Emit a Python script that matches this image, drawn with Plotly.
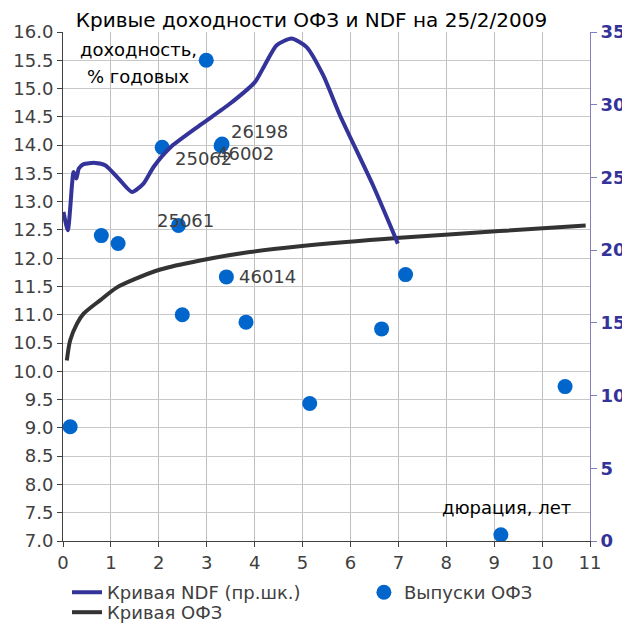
import plotly.graph_objects as go

# ---------------------------------------
# data
# ---------------------------------------
ndf_dur = [0.01, 0.10, 0.19, 0.22, 0.28, 0.33, 0.43, 0.67, 0.88, 1.16, 1.44, 1.68, 1.89,
           2.24, 2.86, 3.49, 4.01, 4.21, 4.46, 4.77, 5.08, 5.43, 5.78, 6.47, 6.99]
ndf_yield = [22.63, 21.37, 24.58, 25.38, 24.92, 25.61, 25.91, 26.0, 25.84, 24.92, 24.0, 24.58, 25.72,
             27.06, 28.59, 30.08, 31.57, 32.72, 34.09, 34.55, 33.98, 32.03, 29.28, 24.46, 20.45]

ofz_curve_dur = [0.08, 0.15, 0.29, 0.43, 0.78, 1.12, 1.47, 2.03, 2.86, 3.9, 4.94, 7.03, 9.11, 10.91]
ofz_curve_yield = [10.19, 10.55, 10.84, 11.02, 11.26, 11.48, 11.62, 11.8, 11.96, 12.11, 12.21,
                   12.36, 12.48, 12.58]

bond_names = ["", "", "", "25062", "", "25061", "26198", "46002", "46014", "", "", "", "", "", "", ""]
bond_dur = [0.15, 0.8, 1.15, 2.07, 2.99, 2.41, 3.32, 3.30, 3.41, 2.49, 3.82, 5.15, 6.65, 7.15, 9.14, 10.48]
bond_yield = [9.02, 12.4, 12.26, 13.96, 15.5, 12.58, 14.02, 13.99, 11.67, 11.0, 10.87, 9.43, 10.75,
              11.71, 7.11, 9.73]

# label offsets in pixels (xshift, yshift)
label_shift = {
    "25062": (11, -11),
    "25061": (-23, 5),
    "26198": (7, 12),
    "46002": (-6, -8),
    "46014": (11, 0),
}

FONT = "DejaVu Sans, sans-serif"

fig = go.Figure()

fig.add_trace(go.Scatter(
    x=ndf_dur, y=ndf_yield, yaxis="y2",
    mode="lines", name="Кривая NDF (пр.шк.)",
    line=dict(color="#333399", width=4, shape="spline", smoothing=0.6),
    legend="legend"
))

fig.add_trace(go.Scatter(
    x=bond_dur, y=bond_yield,
    mode="markers", name="Выпуски ОФЗ",
    marker=dict(color="#0066cc", size=15),
    legend="legend2"
))

fig.add_trace(go.Scatter(
    x=ofz_curve_dur, y=ofz_curve_yield,
    mode="lines", name="Кривая ОФЗ",
    line=dict(color="#333333", width=4, shape="spline", smoothing=0.8),
    legend="legend3"
))

annotations = []
for name, x, y in zip(bond_names, bond_dur, bond_yield):
    if not name:
        continue
    dx, dy = label_shift[name]
    annotations.append(dict(
        x=x, y=y, text=name, showarrow=False,
        xanchor="left", yanchor="middle",
        xshift=dx, yshift=dy,
        font=dict(size=18, color="#404040", family=FONT)
    ))

for txt, ax, ay in [("доходность,", 0.144, 0.965),
                    ("% годовых", 0.143, 0.912),
                    ("дюрация, лет", 0.841, 0.065)]:
    annotations.append(dict(
        x=ax, y=ay, xref="paper", yref="paper", text=txt,
        xanchor="center", yanchor="middle", showarrow=False,
        font=dict(size=18, color="#000000", family=FONT)
    ))

legend_style = dict(
    orientation="v", xanchor="left", yref="container", yanchor="top",
    bgcolor="rgba(0,0,0,0)", tracegroupgap=0,
    font=dict(size=18, color="#404040", family=FONT)
)

# page body has an 8px margin, so the figure is a bit smaller than the window
fig.update_layout(
    width=622, height=616,
    margin=dict(l=55, r=40, t=24, b=83, autoexpand=False),
    paper_bgcolor="white", plot_bgcolor="white",
    font=dict(family=FONT, size=18, color="#404040"),
    title=dict(
        text="Кривые доходности ОФЗ и NDF на 25/2/2009",
        x=0.488, xanchor="center", y=0.98, yanchor="middle",
        font=dict(size=20, color="#000000", family=FONT)
    ),
    xaxis=dict(
        range=[0, 11], dtick=1, tick0=0, automargin=False,
        showgrid=True, gridcolor="#c0c0c0", gridwidth=1,
        showline=True, linecolor="#404040", linewidth=1,
        ticks="outside", ticklen=5, tickcolor="#404040",
        zeroline=False, tickfont=dict(size=18, color="#404040")
    ),
    yaxis=dict(
        range=[7, 16], dtick=0.5, tick0=7, tickformat=".1f", automargin=False,
        showgrid=True, gridcolor="#c8c8c8", gridwidth=1,
        showline=True, linecolor="#404040", linewidth=1,
        ticks="outside", ticklen=5, tickcolor="#404040",
        zeroline=False, tickfont=dict(size=18, color="#404040")
    ),
    yaxis2=dict(
        range=[0, 35], dtick=5, tick0=0, overlaying="y", side="right", automargin=False,
        showgrid=False, zeroline=False,
        showline=True, linecolor="#8080c0", linewidth=1,
        ticks="outside", ticklen=6, tickcolor="#8080c0",
        tickfont=dict(size=18, color="#333399", family=FONT, weight="bold")
    ),
    legend=dict(x=0.0076, y=0.0811, **legend_style),
    legend2=dict(x=0.571, y=0.0811, **legend_style),
    legend3=dict(x=0.0076, y=0.0487, **legend_style),
    annotations=annotations,
    showlegend=True
)

fig.write_html("out.html")
